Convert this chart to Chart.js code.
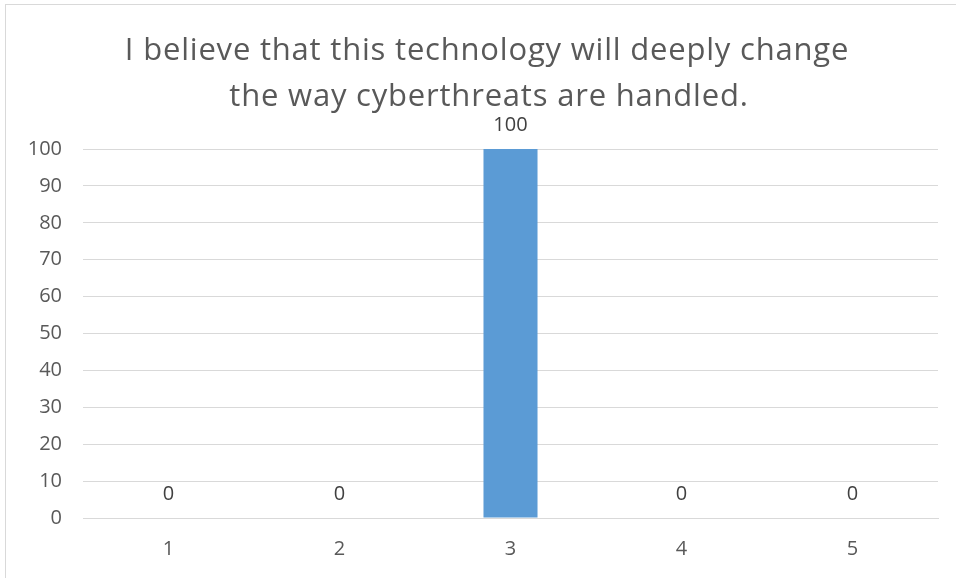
<!DOCTYPE html>
<html>
<head>
<meta charset="utf-8">
<script src="https://cdn.jsdelivr.net/npm/chart.js@4/dist/chart.umd.min.js"></script>
<style>
  html, body { margin: 0; padding: 0; background: #fff; overflow: hidden; }
  #frame { position: absolute; left: 5px; top: 4px; width: 1200px; height: 800px; border: 1px solid #d9d9d9; box-sizing: border-box; }
  #wrap { position: absolute; left: 0; top: 0; width: 956px; height: 578px; }
</style>
</head>
<body>
<div id="frame"></div>
<div id="wrap"><canvas id="c" width="956" height="578"></canvas></div>
<script>
const titleLines = ["I believe that this technology will deeply change", "the way cyberthreats are handled."];
const categories = ["1", "2", "3", "4", "5"];
const values = [0, 0, 100, 0, 0];
const yTicks = [0, 10, 20, 30, 40, 50, 60, 70, 80, 90, 100];

const FONT = "'Open Sans', 'Liberation Sans', sans-serif";

const titlePlugin = {
  id: 'titleText',
  afterDraw(chart) {
    const ctx = chart.ctx;
    ctx.save();
    ctx.font = "31px " + FONT;
    ctx.fillStyle = "#595959";
    ctx.textAlign = "center";
    ctx.textBaseline = "alphabetic";
    try { ctx.letterSpacing = "0.8px"; } catch (e) {}
    ctx.fillText(titleLines[0], 487, 60);
    ctx.fillText(titleLines[1], 489, 106);
    ctx.restore();
  }
};

const dataLabels = {
  id: 'dataLabels',
  afterDatasetsDraw(chart) {
    const ctx = chart.ctx;
    const meta = chart.getDatasetMeta(0);
    ctx.save();
    ctx.font = "20px " + FONT;
    ctx.fillStyle = "#404040";
    ctx.textAlign = "center";
    ctx.textBaseline = "middle";
    meta.data.forEach((bar, i) => {
      ctx.fillText(String(values[i]), bar.x, bar.y - 24);
    });
    ctx.restore();
  }
};

new Chart(document.getElementById('c'), {
  type: 'bar',
  data: {
    labels: categories,
    datasets: [{
      data: values,
      backgroundColor: '#5B9BD5',
      borderWidth: 0,
      categoryPercentage: 1,
      barPercentage: 0.316
    }]
  },
  options: {
    responsive: false,
    animation: false,
    devicePixelRatio: 1,
    layout: { padding: { left: 0, right: 18, top: 149, bottom: 0 } },
    plugins: {
      legend: { display: false },
      tooltip: { enabled: false },
      title: { display: false }
    },
    scales: {
      x: {
        grid: { display: false, drawTicks: false },
        border: { display: true, color: '#d9d9d9', width: 1 },
        ticks: { color: '#595959', font: { family: FONT, size: 20 }, padding: 19 },
        afterFit(s) { s.height = 60; }
      },
      y: {
        min: 0, max: 100,
        afterBuildTicks(s) { s.ticks = yTicks.map(v => ({ value: v })); },
        grid: { color: '#d9d9d9', lineWidth: 1, drawTicks: false },
        border: { display: false },
        ticks: { color: '#595959', font: { family: FONT, size: 20 }, padding: 21 },
        afterFit(s) { s.width = 83; }
      }
    }
  },
  plugins: [dataLabels, titlePlugin]
});
</script>
</body>
</html>
